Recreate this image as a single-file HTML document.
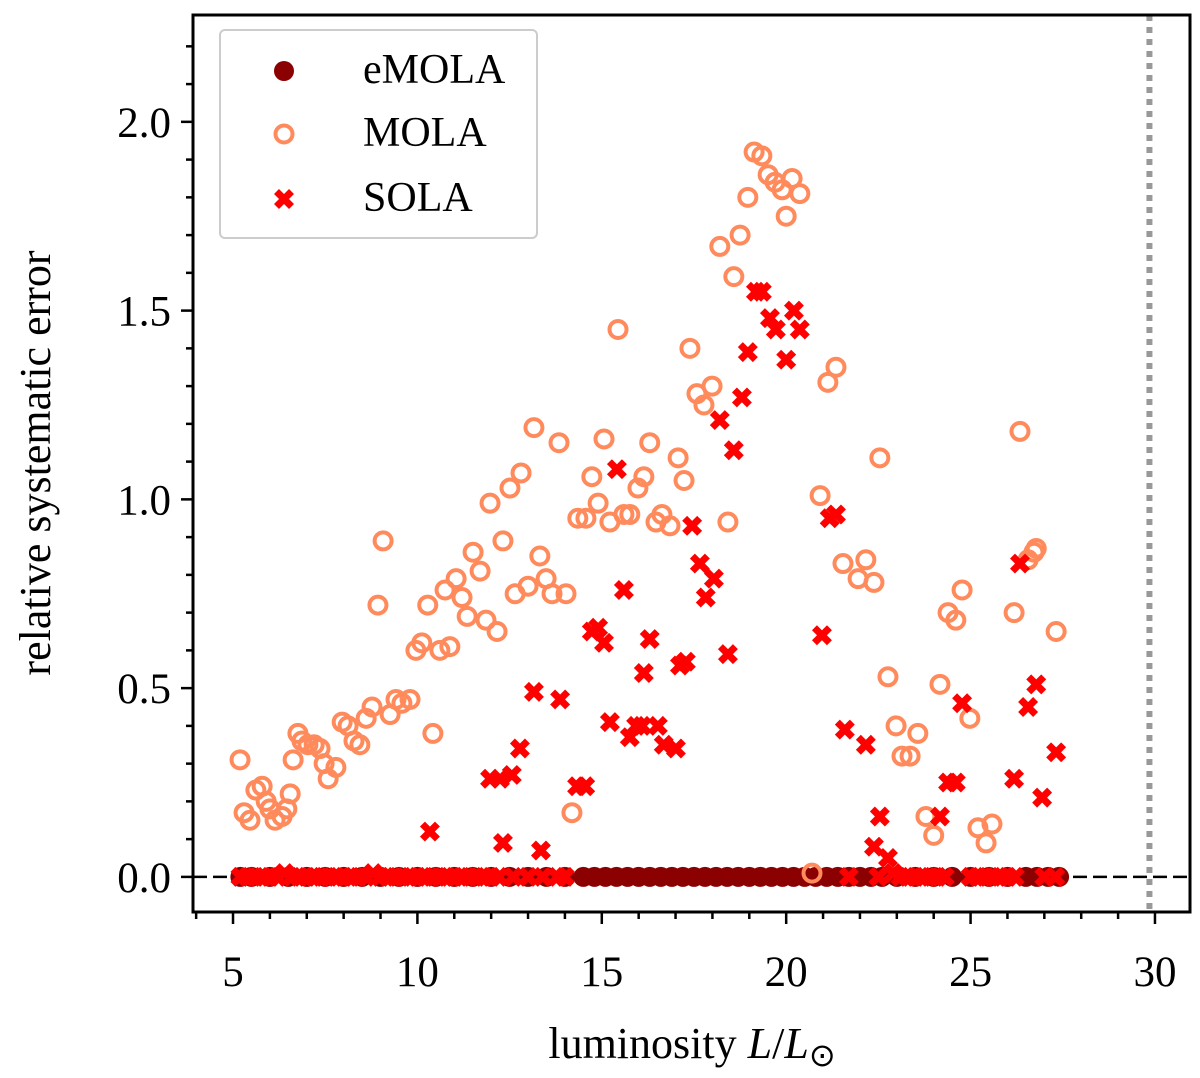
<!DOCTYPE html>
<html><head><meta charset="utf-8">
<style>
body{margin:0;background:#fff;}
svg{display:block;font-family:"Liberation Serif",serif;}
</style></head>
<body>
<svg id="chart" width="1200" height="1078" xmlns="http://www.w3.org/2000/svg">
<g id="plot"></g>
</svg>
<script>
const xTicks=[5,10,15,20,25,30];
const yTicks=[0.0,0.5,1.0,1.5,2.0];
const yTickLabels=["0.0","0.5","1.0","1.5","2.0"];
const molaX=[5.19,5.30,5.46,5.62,5.79,5.9,6.0,6.14,6.33,6.46,6.55,6.63,6.76,6.87,7.03,7.2,7.36,7.47,7.58,7.79,7.96,8.12,8.28,8.44,8.61,8.77,8.93,9.07,9.26,9.42,9.58,9.8,9.96,10.12,10.28,10.42,10.61,10.75,10.88,11.05,11.21,11.35,11.51,11.7,11.86,11.97,12.16,12.32,12.51,12.65,12.81,13.0,13.16,13.32,13.49,13.65,13.84,14.03,14.19,14.35,14.57,14.73,14.9,15.06,15.22,15.44,15.6,15.76,15.98,16.14,16.3,16.47,16.63,16.85,17.07,17.23,17.39,17.58,17.77,17.99,18.2,18.42,18.58,18.75,18.96,19.13,19.34,19.51,19.7,19.89,20.0,20.16,20.37,20.92,21.13,21.35,21.54,21.95,22.16,22.38,22.54,22.76,22.98,23.14,23.36,23.57,23.79,24.0,24.17,24.39,24.6,24.77,24.98,25.2,25.42,25.58,26.18,26.34,26.56,26.72,26.78,27.32,20.7];
const molaY=[0.31,0.17,0.15,0.23,0.24,0.20,0.18,0.15,0.16,0.18,0.22,0.31,0.38,0.36,0.35,0.35,0.34,0.30,0.26,0.29,0.41,0.40,0.36,0.35,0.42,0.45,0.72,0.89,0.43,0.47,0.46,0.47,0.60,0.62,0.72,0.38,0.60,0.76,0.61,0.79,0.74,0.69,0.86,0.81,0.68,0.99,0.65,0.89,1.03,0.75,1.07,0.77,1.19,0.85,0.79,0.75,1.15,0.75,0.17,0.95,0.95,1.06,0.99,1.16,0.94,1.45,0.96,0.96,1.03,1.06,1.15,0.94,0.96,0.93,1.11,1.05,1.40,1.28,1.25,1.30,1.67,0.94,1.59,1.70,1.80,1.92,1.91,1.86,1.84,1.82,1.75,1.85,1.81,1.01,1.31,1.35,0.83,0.79,0.84,0.78,1.11,0.53,0.40,0.32,0.32,0.38,0.16,0.11,0.51,0.70,0.68,0.76,0.42,0.13,0.09,0.14,0.70,1.18,0.84,0.86,0.87,0.65,0.01];
const solaX=[10.34,11.97,12.24,12.32,12.56,12.78,13.16,13.35,13.87,14.33,14.55,14.73,14.9,15.06,15.22,15.41,15.6,15.76,15.93,16.09,16.14,16.3,16.52,16.68,17.01,17.12,17.28,17.45,17.66,17.82,18.04,18.2,18.42,18.58,18.8,18.96,19.18,19.34,19.56,19.72,20.0,20.21,20.37,20.97,21.18,21.35,21.59,22.16,22.38,22.54,22.76,24.17,24.39,24.6,24.77,26.18,26.34,26.56,26.78,26.94,27.32,
5.2,5.4,5.6,5.8,6.0,6.2,6.4,6.6,6.8,7.0,7.2,7.4,7.6,7.8,8.0,8.2,8.4,8.6,8.8,9.0,9.2,9.4,9.6,9.8,10.0,10.2,10.4,10.6,10.8,11.0,11.2,11.4,11.6,11.8,12.0,12.2,12.6,13.0,13.4,13.8,14.0,21.7,22.5,22.9,23.1,23.3,23.5,23.7,23.9,24.1,24.3,25.0,25.2,25.4,25.6,25.8,26.0,26.2,27.0,27.3];
const solaY=[0.12,0.26,0.26,0.09,0.27,0.34,0.49,0.07,0.47,0.24,0.24,0.65,0.66,0.62,0.41,1.08,0.76,0.37,0.40,0.40,0.54,0.63,0.40,0.35,0.34,0.56,0.57,0.93,0.83,0.74,0.79,1.21,0.59,1.13,1.27,1.39,1.55,1.55,1.48,1.45,1.37,1.50,1.45,0.64,0.95,0.96,0.39,0.35,0.08,0.16,0.05,0.16,0.25,0.25,0.46,0.26,0.83,0.45,0.51,0.21,0.33,
0,0,0,0,0,0,0.01,0,0,0,0,0,0,0,0,0,0,0,0.01,0,0,0,0,0,0,0,0,0,0,0,0,0,0,0,0,0,0,0,0,0,0,0,0,0.01,0,0,0,0,0,0,0,0,0,0,0,0,0,0,0,0];
const emolaX=[5.2,5.5,6.0,6.5,7.0,7.5,8.0,8.5,9.0,9.5,10.0,10.5,11.0,11.5,12.0,12.5,13.0,13.5,14.0,14.5,14.8,15.1,15.4,15.7,16.0,16.3,16.6,16.9,17.2,17.5,17.8,18.1,18.4,18.7,19.0,19.3,19.6,19.9,20.2,20.5,20.8,21.1,21.4,21.7,22.0,22.3,22.6,23.0,23.5,24.0,24.5,25.0,25.5,26.0,26.5,26.8,27.1,27.4];
const emolaY=emolaX.map(()=>0);

const L=193,R=1190,T=15,B=912;
const xMin=3.915,xMax=30.95,yMin=-0.093,yMax=2.283;
const sx=v=>L+(v-xMin)/(xMax-xMin)*(R-L);
const sy=v=>B-(v-yMin)/(yMax-yMin)*(B-T);
const NS="http://www.w3.org/2000/svg";
const svg=document.getElementById('chart');
function mk(tag,attrs,parent){const e=document.createElementNS(NS,tag);for(const k in attrs)e.setAttribute(k,attrs[k]);(parent||svg).appendChild(e);return e;}

let zl=mk('line',{x1:L,x2:R,y1:sy(0),y2:sy(0),stroke:'#000','stroke-width':2.5,'stroke-dasharray':'14,6'});


let vl=mk('line',{x1:sx(29.85),x2:sx(29.85),y1:T,y2:B,stroke:'#999','stroke-width':6,'stroke-dasharray':'6,6'});



emolaX.forEach((x,i)=>{const c=mk('circle',{cx:sx(x),cy:sy(emolaY[i]),r:10,fill:'#8b0000'});

});
molaX.forEach((x,i)=>{const c=mk('circle',{cx:sx(x),cy:sy(molaY[i]),r:8.5,fill:'none',stroke:'#ff8a5c','stroke-width':4});

});
function xMark(cx,cy,parent){const d=7.5;const g=mk('path',{d:`M${cx-d},${cy-d}L${cx+d},${cy+d}M${cx-d},${cy+d}L${cx+d},${cy-d}`,stroke:'#ff0000','stroke-width':7,'stroke-linecap':'butt',fill:'none'},parent);return g;}
solaX.forEach((x,i)=>{const p=xMark(sx(x),sy(solaY[i]));

});

let fr=mk('rect',{x:L,y:T,width:R-L,height:B-T,fill:'none',stroke:'#000','stroke-width':3});



for(let v=4;v<=30;v++){const big=xTicks.includes(v);const t=mk('line',{x1:sx(v),x2:sx(v),y1:B,y2:B+(big?12:7),stroke:'#000','stroke-width':2.5});

}
xTicks.forEach(v=>{const t=mk('text',{x:sx(v),y:B+74,'text-anchor':'middle','font-size':43});t.textContent=v;

});
for(let k=0;k<=22;k++){const v=k/10;const big=k%5===0;const t=mk('line',{x1:L,x2:L-(big?12:7),y1:sy(v),y2:sy(v),stroke:'#000','stroke-width':2.5});

}
yTicks.forEach((v,i)=>{const t=mk('text',{x:L-22,y:sy(v)+15,'text-anchor':'end','font-size':43});t.textContent=yTickLabels[i];

});

let xt=mk('text',{x:692,y:1058,'text-anchor':'middle','font-size':44});
xt.innerHTML='luminosity <tspan font-style="italic">L</tspan>/<tspan font-style="italic">L</tspan><tspan font-size="32" dy="8">⊙</tspan>';


let yt=mk('text',{x:0,y:0,'text-anchor':'middle','font-size':44,transform:'translate(50,463) rotate(-90)'});
yt.textContent='relative systematic error';



let lg=mk('g',{});


mk('rect',{x:220,y:30,width:317,height:208,rx:5,fill:'#fff',stroke:'#ccc','stroke-width':2},lg);
let c1=mk('circle',{cx:284,cy:71,r:10,fill:'#8b0000'},lg);


let c2=mk('circle',{cx:284,cy:134,r:8.5,fill:'none',stroke:'#ff8a5c','stroke-width':4},lg);


let c3=xMark(284,199,lg);


[['eMOLA',83],['MOLA',146],['SOLA',211]].forEach(([s,y])=>{const t=mk('text',{x:363,y:y,'font-size':42},lg);t.textContent=s;

});
</script>
</body></html>
